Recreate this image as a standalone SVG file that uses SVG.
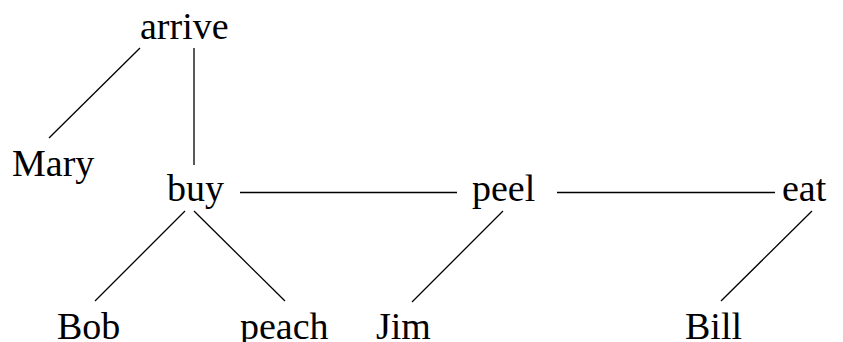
<svg xmlns="http://www.w3.org/2000/svg" width="843" height="342" viewBox="0 0 843 342">
<style>
text { font-family: "Liberation Serif", "Times New Roman", serif; font-size: 38px; fill: #000; }
line { stroke: #000; stroke-width: 1.3; }
</style>
<rect width="843" height="342" fill="#fff"/>
<g id="connectors">
<line x1="140" y1="48" x2="49" y2="138"/>
<line x1="194" y1="48" x2="194" y2="165"/>
<line x1="240" y1="192.5" x2="457" y2="192.5"/>
<line x1="557" y1="192.5" x2="775" y2="192.5"/>
<line x1="185" y1="211" x2="95" y2="301"/>
<line x1="194" y1="211" x2="285" y2="301"/>
<line x1="503" y1="211" x2="412" y2="302"/>
<line x1="812" y1="211" x2="721" y2="301"/>
</g>
<g id="arrive"><text x="140" y="39">arrive</text></g>
<g id="Mary"><text x="12" y="176">Mary</text></g>
<g id="buy"><text x="167" y="201">buy</text></g>
<g id="peel"><text x="472" y="201">peel</text></g>
<g id="eat"><text x="782" y="201">eat</text></g>
<g id="Bob"><text x="57" y="339">Bob</text></g>
<g id="peach"><text x="240" y="339">peach</text></g>
<g id="Jim"><text x="376" y="339">Jim</text></g>
<g id="Bill"><text x="685" y="339">Bill</text></g>
</svg>
